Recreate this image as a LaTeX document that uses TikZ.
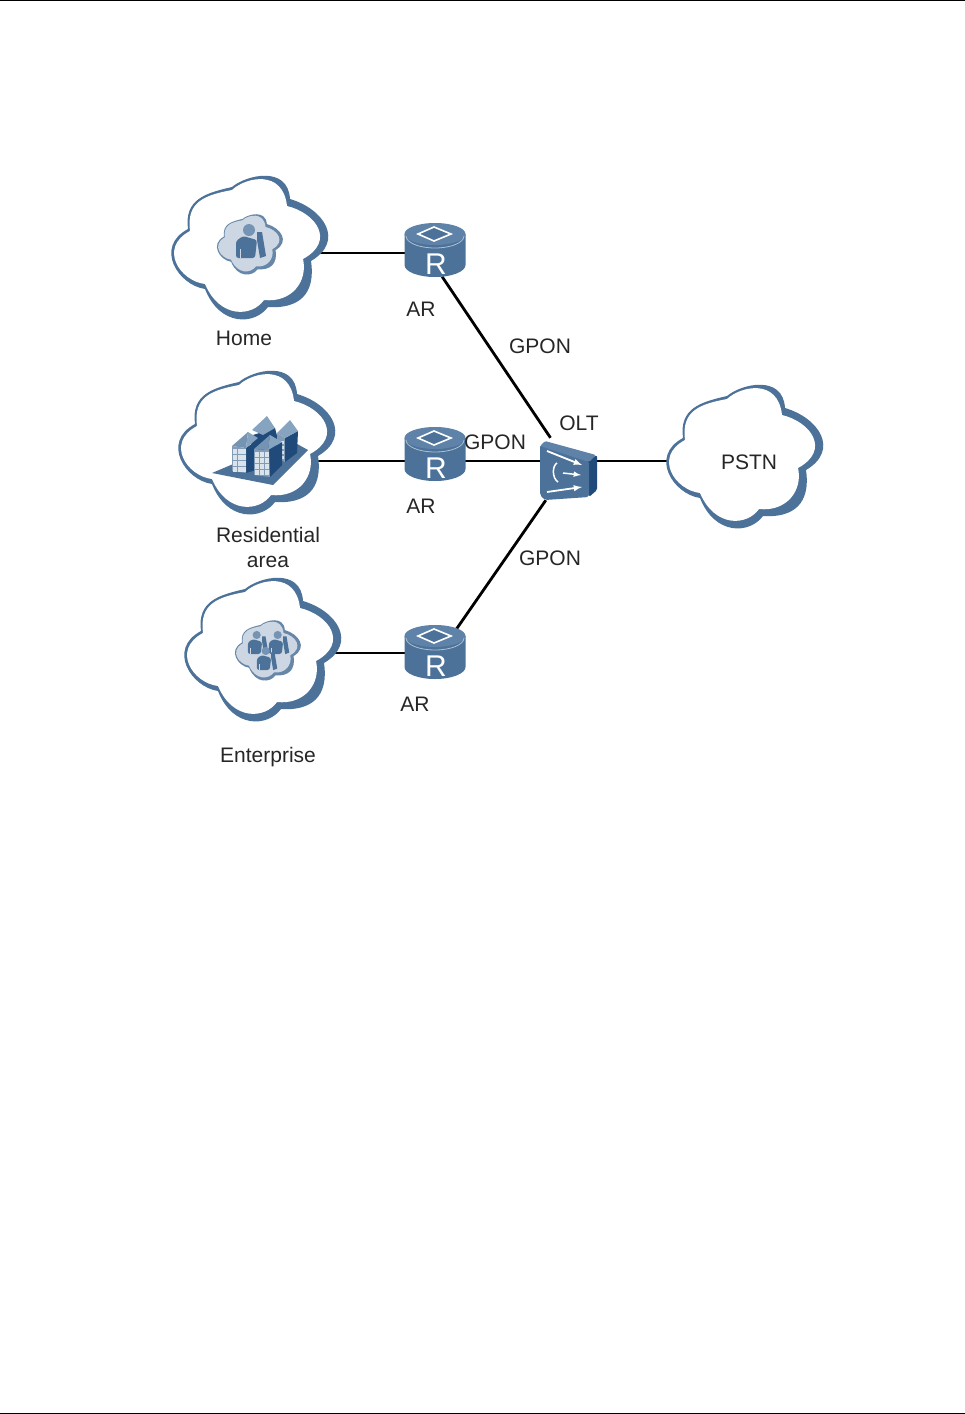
\documentclass[tikz,border=0pt]{standalone}
\usepackage{fontspec}
\setmainfont{Liberation Sans}
\usetikzlibrary{calc,arrows}
\pgfdeclarelayer{background}
\pgfdeclarelayer{main}
\pgfsetlayers{background,main}
\definecolor{hwblue}{HTML}{4C7299}
\definecolor{hwlight}{HTML}{5F82A8}
\definecolor{hwdark}{HTML}{1F4A7A}
\definecolor{hwpale}{HTML}{CDD7E3}
\definecolor{hwroof}{HTML}{86A3BF}
\newcommand{\cloudouter}{(-18,-62) .. controls (-4,-74) and (38,-84) .. (40,-50) .. controls (74,-40) and (95,-8) .. (61,12) .. controls (66,46) and (48,60) .. (18,58) .. controls (5,76) and (-30,78) .. (-45,40) .. controls (-72,36) and (-96,-2) .. (-62,-20) .. controls (-66,-50) and (-44,-56) .. cycle}
\newcommand{\cloudinner}{(-18,-59) .. controls (-4,-72) and (33,-80) .. (37,-43) .. controls (66,-36) and (86,-8) .. (53,10) .. controls (58,32) and (42,54) .. (14,51) .. controls (2,68) and (-30,70) .. (-45,35) .. controls (-70,32) and (-92,-1) .. (-60,-18) .. controls (-64,-48) and (-44,-54) .. cycle}
\tikzset{
  hub/.style={inner sep=0pt, minimum width=61pt, minimum height=53pt},
  spot/.style={inner sep=0pt, minimum size=1pt},
  lbl/.style={inner sep=0pt, align=center, text=black!85, font=\fontsize{21}{25.5}\selectfont},
  link/.style={line width=2.8pt, draw=black},
  cloudicon/.pic={
    \fill [hwblue] \cloudouter;
    \fill [white] \cloudinner;
  },
  smallcloud/.pic={
    \fill [hwblue!85!white, scale=.42] \cloudouter;
    \fill [hwpale, scale=.42] \cloudinner;
  },
  router/.pic={
    \fill [hwblue] (-30.5,-16) -- (-30.5,15) arc [x radius=30.5, y radius=12, start angle=180, end angle=0] -- (30.5,-16) -- cycle;
    \fill [hwlight] (0,-16) ellipse [x radius=30.5, y radius=11];
    \draw [white!55!hwblue, line width=.8pt] (-29,-14) arc [x radius=29, y radius=12, start angle=180, end angle=0];
    \draw [white, line width=1.6pt, fill=hwblue] (-1,-23) -- (16,-16) -- (-1,-9) -- (-17,-16) -- cycle;
    \node [spot, text=white, font=\fontsize{30}{30}\selectfont] at (1,14) {R};
  },
  person/.pic={
    \fill [hwroof!70!hwblue] (1,-14) circle [radius=6];
    \fill [hwblue, rounded corners=2.5pt] (-12,14) -- (-12,-3) -- (-5,-8) -- (9,-4) -- (7,14) -- cycle;
    \fill [hwblue] (9,-12) -- (14,-12) -- (18,12) -- (12,14) -- (9,-4) -- cycle;
    \draw [hwpale, line width=.8pt] (-8,5) -- (-8,14);
  }
}

\begin{document}
\begin{tikzpicture}[x=1pt,y=-1pt]
\useasboundingbox (0,0) rectangle (965,1414);

%page rules
\coordinate (headl) at (0,.5);
\coordinate (headr) at (965,.5);
\coordinate (footl) at (0,1413);
\coordinate (footr) at (965,1413);
\draw [line width=1pt] (headl) -- (headr);
\draw [line width=1pt] (footl) -- (footr);

%anchors of the connectors
\node [spot] (home) at (250,253) {};
\node [spot] (resi) at (257,461) {};
\node [spot] (firm) at (263,653) {};
\node [spot] (pstn) at (745,461) {};
\node [hub] (ar1) at (435,250) {};
\node [hub] (ar2) at (435,454) {};
\node [hub] (ar3) at (435,652) {};
\node [inner sep=0pt, minimum width=57pt, minimum height=62pt] (olt) at (568.5,469) {};
\node [spot] (oltmid) at (568,461) {};
\coordinate (ar3out) at (453,634);

\begin{pgfonlayer}{background}
%edges from the access networks
\draw [link] (home) -- (ar1 |- home);
\draw [link] (resi) -- (ar2 |- resi);
\draw [link] (firm) -- (ar3 |- firm);

%edges to the OLT
\draw [link] (ar1.-75) -- (olt.120);
\draw [link] (ar2 |- oltmid) -- (oltmid);
\draw [link] (ar3out) -- (olt.-126);
\draw [link] (oltmid) -- (pstn);
\end{pgfonlayer}

%clouds
\pic at (250,249) {cloudicon};
\pic at (257,444) {cloudicon};
\pic at (263,651) {cloudicon};
\pic at (745,458) {cloudicon};

%home icon
\pic at (250,245) {smallcloud};
\pic at (248,244) {person};

%residential icon
\fill [hwblue] (212,473) -- (290,440) -- (308,450) -- (273,485) -- cycle;
\fill [hwdark] (250,436) -- (275,428) -- (280,447) -- (270,472) -- (256,470) -- cycle;

%back buildings
\fill [hwroof] (252,430) -- (267,416) -- (275,428) -- (263,435) -- cycle;
\fill [white!30!hwblue] (277,433) -- (285,438) -- (285,462) -- (277,458) -- cycle;
\fill [hwdark] (285,438) -- (298,431) -- (297,453) -- (285,462) -- cycle;
\fill [hwroof] (277,433) -- (290,420) -- (298,431) -- (285,438) -- cycle;
\foreach \wy in {441,446,451,456}
  \fill [white!80!hwblue] (280,\wy) rectangle +(3.5,3);

%front left building
\fill [hwdark] (246,448) -- (257,440) -- (256,470) -- (246,473) -- cycle;
\fill [hwroof!70!hwblue] (232,446) -- (248,432) -- (246,448) -- cycle;
\fill [hwroof] (248,432) -- (258,438) -- (246,448) -- cycle;
\fill [white!30!hwblue] (232,446) -- (246,448) -- (246,473) -- (232,471) -- cycle;
\foreach \wx in {233,238,242}
  \foreach \wy in {449,455,461,467}
    \fill [white!80!hwblue] (\wx,\wy) rectangle +(3.5,4.5);

%front right building
\fill [hwdark] (269,450) -- (282,442) -- (282,465) -- (270,477) -- cycle;
\fill [hwroof!70!hwblue] (254,449) -- (270,435) -- (268,450) -- cycle;
\fill [hwroof] (270,435) -- (282,442) -- (268,450) -- cycle;
\fill [white!30!hwblue] (254,449) -- (269,450) -- (270,477) -- (254,475) -- cycle;
\foreach \wx in {255,260,265}
  \foreach \wy in {452,458,464,470}
    \fill [white!80!hwblue] (\wx,\wy) rectangle +(3.5,4.5);

%enterprise icon
\pic at (268,651) {smallcloud};
\pic [scale=.68] at (256,644.5) {person};
\pic [scale=.68] at (277,644.5) {person};
\pic [scale=.68] at (265,660.5) {person};

%routers
\pic at (435,250) {router};
\pic at (435,454) {router};
\pic at (435,652) {router};

%olt
\fill [hwdark, rounded corners=1.5pt] (588,460) -- (597,455) -- (597,490) -- (589,497) -- cycle;
\fill [hwblue, rounded corners=2pt] (540,445) -- (589,461) -- (589,497) -- (545,500) -- (540,495) -- cycle;
\fill [hwlight, rounded corners=1.5pt] (540,446) -- (545,441) -- (596,455) -- (589,462) -- cycle;
\draw [white, line width=1.8pt, -latex] (547,451) -- (582,465);
\draw [white, line width=1.5pt, -latex] (563,473) -- (581,475);
\draw [white, line width=1.8pt, -latex] (547,492) -- (582,487);
\draw [white, line width=1.5pt] (557,463) .. controls (552,466) and (552,478) .. (558,482);

%labels
\node [lbl] (homelbl) at (244,338) {Home};
\node [lbl] (reslbl) at (268,547.5) {Residential\\area};
\node [lbl] (firmlbl) at (268,757) {Enterprise};
\node [lbl] (ar1lbl) at (421,309) {AR};
\node [lbl] (ar2lbl) at (421,506) {AR};
\node [lbl] (ar3lbl) at (415,704) {AR};
\node [lbl] (gpon1) at (540,346) {GPON};
\node [lbl] (gpon2) at (495,442) {GPON};
\node [lbl] (gpon3) at (550,558) {GPON};
\node [lbl] (oltlbl) at (579,423) {OLT};
\node [lbl] (pstnlbl) at (749,462) {PSTN};

\end{tikzpicture}
\end{document}
